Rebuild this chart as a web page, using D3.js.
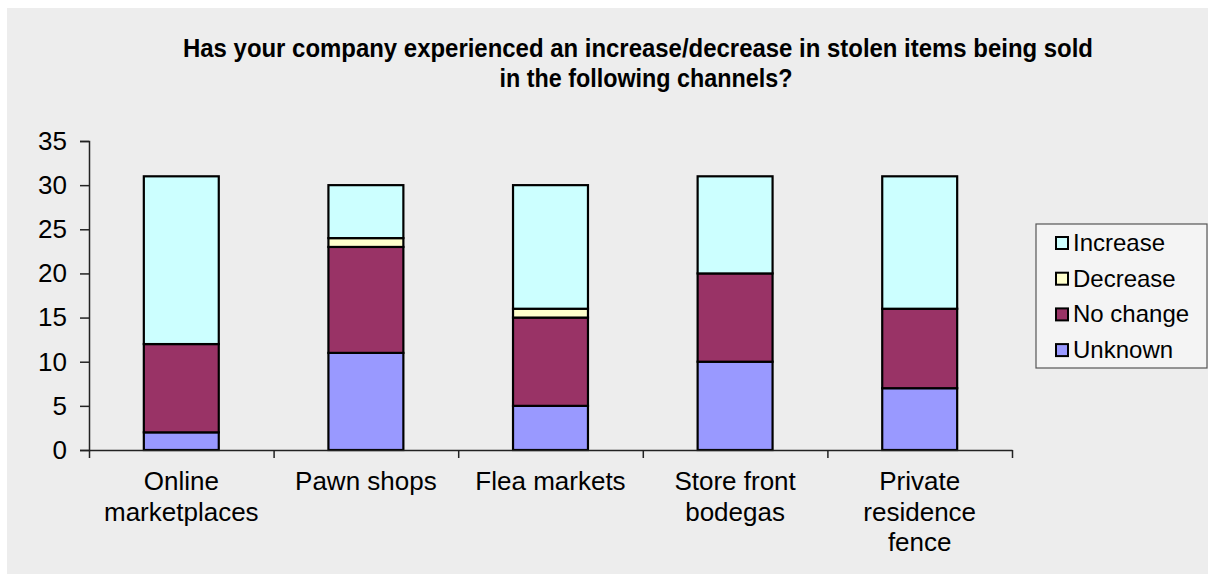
<!DOCTYPE html>
<html>
<head>
<meta charset="utf-8">
<script src="https://cdn.jsdelivr.net/npm/d3@7"></script>
<style>
  html, body { margin: 0; padding: 0; background: #ffffff; }
  svg { display: block; }
  text { font-family: "Liberation Sans", Arial, sans-serif; fill: #000; }
</style>
</head>
<body>
<svg id="chart" width="1212" height="577"></svg>
<script>
// Survey channels and the number of responses per answer
const categories = [
  ["Online", "marketplaces"],
  ["Pawn shops"],
  ["Flea markets"],
  ["Store front", "bodegas"],
  ["Private", "residence", "fence"]
];
const unknown  = [2, 11, 5, 10, 7];
const noChange = [10, 12, 10, 10, 9];
const decrease = [0, 1, 1, 0, 0];
const increase = [19, 6, 14, 11, 15];

const seriesNames  = ["Unknown", "No change", "Decrease", "Increase"];
const seriesColors = ["#9999FF", "#993366", "#FFFFCC", "#CCFFFF"];
const yTicks = [0, 5, 10, 15, 20, 25, 30, 35];

const titleLines = [
  "Has your company experienced an increase/decrease in stolen items being sold",
  "in the following channels?"
];

const svg = d3.select("#chart");

// chart area background
svg.append("rect")
  .attr("x", 7).attr("y", 8)
  .attr("width", 1201).attr("height", 566)
  .attr("fill", "#EDEDED");

// title
const titleX = [638, 646];
const titleW = [910, 293];
const titleY = [57, 87];
titleLines.forEach((t, i) => {
  svg.append("text")
    .attr("x", titleX[i]).attr("y", titleY[i])
    .attr("text-anchor", "middle")
    .attr("font-size", 26)
    .attr("font-weight", "bold")
    .attr("textLength", titleW[i])
    .attr("lengthAdjust", "spacingAndGlyphs")
    .text(t);
});

const plot = { left: 89, right: 1012, top: 141, bottom: 450 };

const keys = ["unknown", "noChange", "decrease", "increase"];
const rows = categories.map((c, i) => ({
  cat: c.join(" "),
  lines: c,
  unknown: unknown[i],
  noChange: noChange[i],
  decrease: decrease[i],
  increase: increase[i]
}));

const x = d3.scaleBand()
  .domain(rows.map(d => d.cat))
  .range([plot.left, plot.right])
  .paddingInner(0.594)
  .paddingOuter(0.297);

const y = d3.scaleLinear()
  .domain([0, 35])
  .range([plot.bottom, plot.top]);

const stack = d3.stack().keys(keys)(rows);

// stacked bars
stack.forEach((layer, li) => {
  svg.append("g")
    .selectAll("rect")
    .data(layer.filter(d => d[1] - d[0] > 0))
    .join("rect")
    .attr("x", d => x(d.data.cat))
    .attr("y", d => y(d[1]))
    .attr("width", x.bandwidth())
    .attr("height", d => y(d[0]) - y(d[1]))
    .attr("fill", seriesColors[li])
    .attr("stroke", "#000")
    .attr("stroke-width", 2.2);
});

// y axis
const yAxis = svg.append("g")
  .attr("transform", `translate(${plot.left},0)`)
  .call(d3.axisLeft(y).tickValues(yTicks).tickSize(9).tickPadding(13));
yAxis.select(".domain").attr("stroke", "#222").attr("stroke-width", 1.5);
yAxis.selectAll(".tick line").attr("stroke", "#222").attr("stroke-width", 1.5);
yAxis.selectAll(".tick text")
  .attr("font-size", 26)
  .attr("font-family", "'Liberation Sans', Arial, sans-serif")
  .attr("fill", "#000");

// x axis with tick marks between categories
const xEdges = d3.scaleLinear().domain([0, rows.length]).range([plot.left, plot.right]);
const xAxis = svg.append("g")
  .attr("transform", `translate(0,${plot.bottom})`)
  .call(d3.axisBottom(xEdges).tickValues(d3.range(rows.length + 1)).tickSize(8).tickSizeOuter(0).tickFormat(""));
xAxis.select(".domain").attr("stroke", "#222").attr("stroke-width", 1.5);
xAxis.selectAll(".tick line").attr("stroke", "#222").attr("stroke-width", 1.5);

// category labels
rows.forEach(d => {
  const t = svg.append("text")
    .attr("text-anchor", "middle")
    .attr("font-size", 26)
    .attr("x", x(d.cat) + x.bandwidth() / 2)
    .attr("y", 490);
  d.lines.forEach((ln, i) => {
    t.append("tspan")
      .attr("x", x(d.cat) + x.bandwidth() / 2)
      .attr("dy", i === 0 ? 0 : 30.5)
      .text(ln);
  });
});

// legend, top series first
const legend = svg.append("g");
legend.append("rect")
  .attr("x", 1036).attr("y", 224)
  .attr("width", 171).attr("height", 144)
  .attr("fill", "#F4F4F4")
  .attr("stroke", "#555").attr("stroke-width", 1.2);

const legendOrder = d3.range(seriesNames.length).reverse();
legendOrder.forEach((si, row) => {
  const cy = 243 + row * 35.7;
  legend.append("rect")
    .attr("x", 1056).attr("y", cy - 6)
    .attr("width", 12).attr("height", 12)
    .attr("fill", seriesColors[si])
    .attr("stroke", "#000").attr("stroke-width", 2);
  legend.append("text")
    .attr("x", 1073).attr("y", cy + 8)
    .attr("font-size", 24)
    .text(seriesNames[si]);
});
</script>
</body>
</html>
